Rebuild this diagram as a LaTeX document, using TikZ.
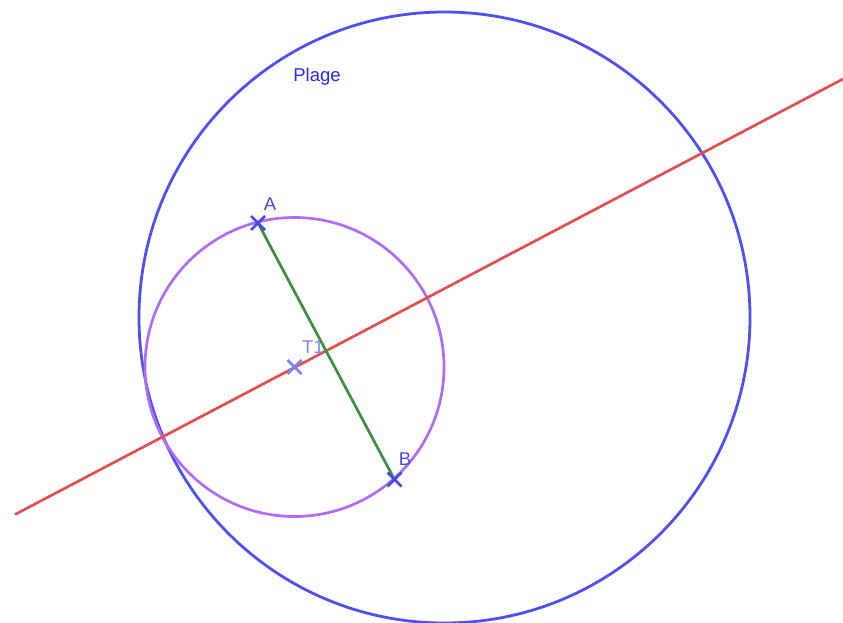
\documentclass[tikz,border=0pt]{standalone}
\usepackage{fontspec}
\setmainfont{Liberation Sans}
\definecolor{bigc}{HTML}{5050F0}
\definecolor{smallc}{HTML}{B06CF5}
\definecolor{redl}{HTML}{E05050}
\definecolor{greenl}{HTML}{3F8F3F}
\definecolor{ptc}{HTML}{4A4AE0}
\definecolor{tc}{HTML}{8080F8}
\definecolor{plagec}{HTML}{2828FF}
\begin{document}
\begin{tikzpicture}[x=1pt,y=-1pt,
  cross/.style={draw=ptc,line width=2.8pt},
  lbl/.style={font=\fontsize{18.5}{18.5}\selectfont,text=ptc,inner sep=0pt}]
\useasboundingbox (0,0) rectangle (843,623);
\coordinate (T1) at (294.5,367);
\coordinate (A) at (258,223);
\coordinate (B) at (394.5,479.5);
\coordinate (L) at (15,514.5);
\coordinate (R) at (843,79);
\coordinate (C) at (444.5,317.5);
% circles
\draw[bigc,line width=2.8pt] (C) circle (305.5);
\draw[smallc,line width=2.7pt] (T1) circle (149.5);
% lines
\draw[redl,line width=2.7pt] (L) -- (R);
\draw[greenl,line width=2.7pt] (A) -- (B);
% points
\draw[cross] ([shift={(-7,-7)}]A) -- ([shift={(7,7)}]A) ([shift={(-7,7)}]A) -- ([shift={(7,-7)}]A);
\draw[cross] ([shift={(-7,-7)}]B) -- ([shift={(7,7)}]B) ([shift={(-7,7)}]B) -- ([shift={(7,-7)}]B);
\draw[cross,draw=tc] ([shift={(-7,-7)}]T1) -- ([shift={(7,7)}]T1) ([shift={(-7,7)}]T1) -- ([shift={(7,-7)}]T1);
% labels
\node[lbl] (la) at (270,204) {A};
\node[lbl] (lb) at (405,459) {B};
\node[lbl,text=tc] (lt) at (313,347.5) {T1};
\node[lbl,text=plagec] (lp) at (317,77) {Plage};
\end{tikzpicture}
\end{document}
